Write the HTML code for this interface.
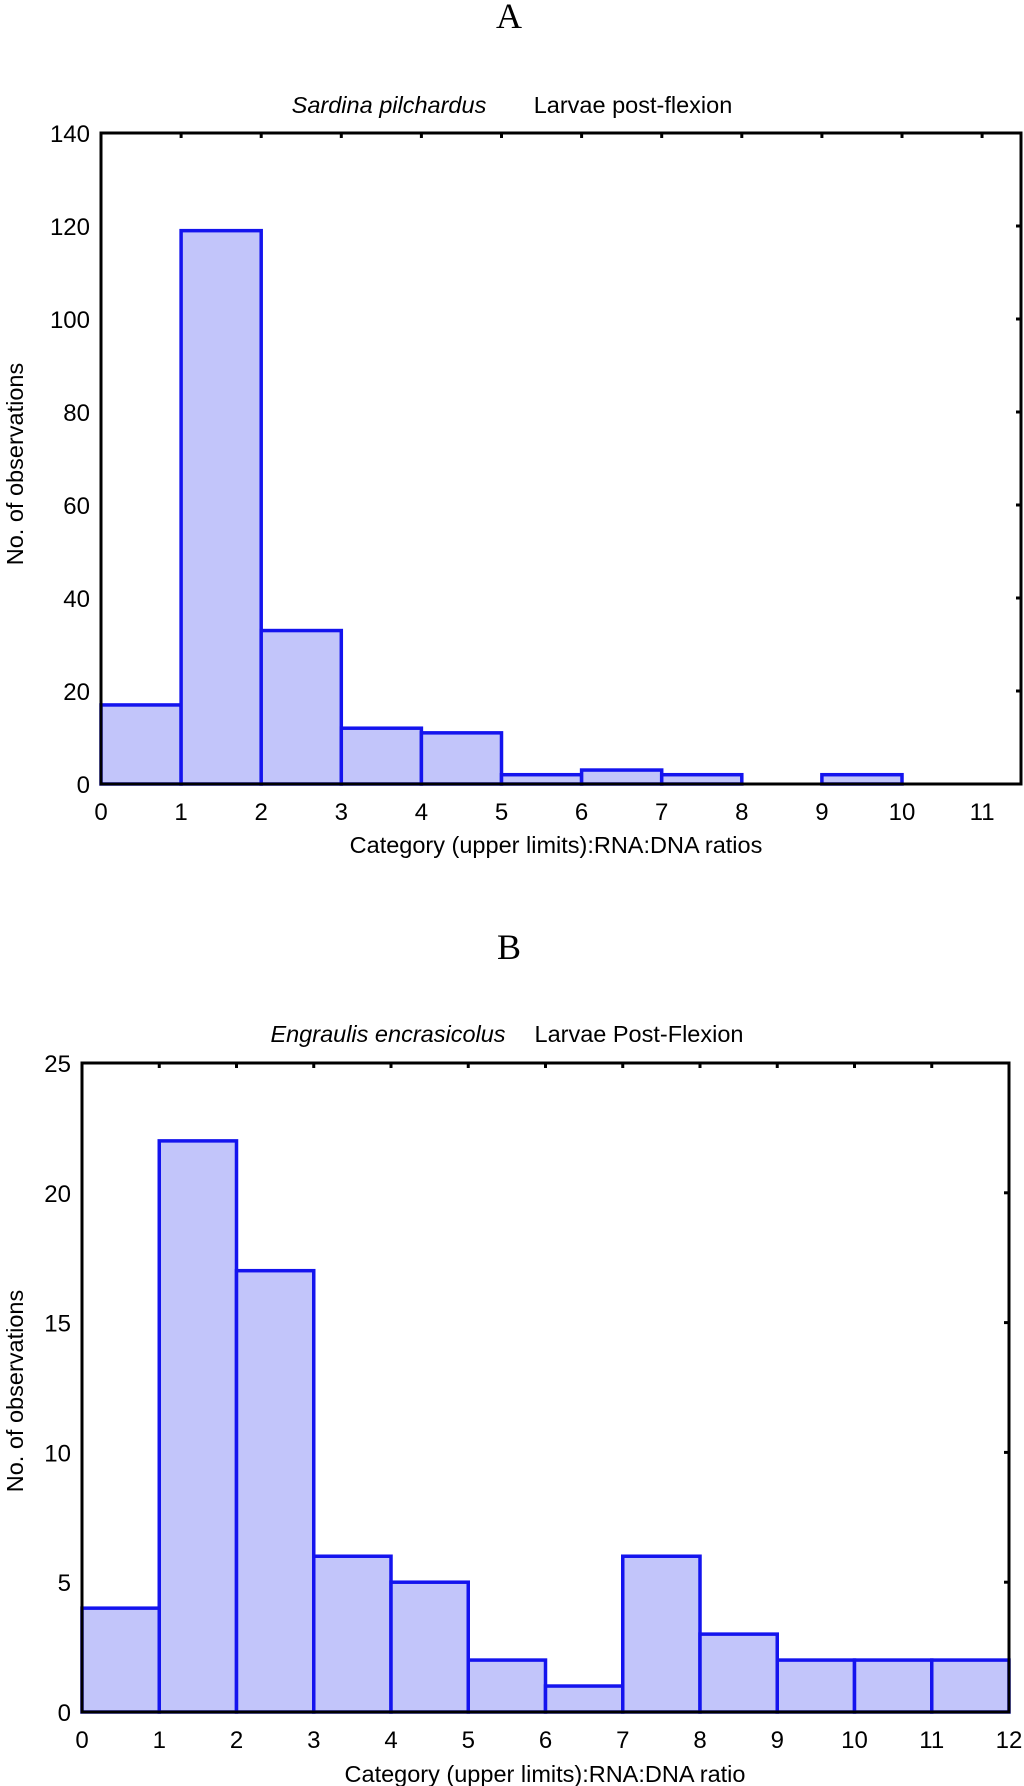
<!DOCTYPE html>
<html><head><meta charset="utf-8"><style>
html,body{margin:0;padding:0;background:#fff;}
svg{display:block;font-family:"Liberation Sans",sans-serif;}
</style></head><body>
<svg id="fig" width="1024" height="1786" viewBox="0 0 1024 1786">
<text x="509" y="28" font-family="Liberation Serif,serif" font-size="36" text-anchor="middle">A</text>
<text x="389" y="113" font-size="23.5" font-style="italic" text-anchor="middle">Sardina pilchardus</text>
<text x="633" y="113" font-size="23.5" text-anchor="middle">Larvae post-flexion</text>
<g id="chartA"></g>
<text x="509" y="959" font-family="Liberation Serif,serif" font-size="36" text-anchor="middle">B</text>
<text x="388" y="1042" font-size="23.5" font-style="italic" text-anchor="middle">Engraulis encrasicolus</text>
<text x="639" y="1042" font-size="23.5" text-anchor="middle">Larvae Post-Flexion</text>
<g id="chartB"></g>
</svg>
<script>
const countsA = [17,119,33,12,11,2,3,2,0,2,0];
const xTicksA = [0,1,2,3,4,5,6,7,8,9,10,11];
const yTicksA = [0,20,40,60,80,100,120,140];
const countsB = [4,22,17,6,5,2,1,6,3,2,2,2];
const xTicksB = [0,1,2,3,4,5,6,7,8,9,10,11,12];
const yTicksB = [0,5,10,15,20,25];
const NS="http://www.w3.org/2000/svg";
function mk(parent,tag,attrs){const e=document.createElementNS(NS,tag);for(const k in attrs)e.setAttribute(k,attrs[k]);parent.appendChild(e);return e;}
function draw(g,cfg){
  const sx=v=>cfg.l+(v-cfg.xmin)/(cfg.xmax-cfg.xmin)*(cfg.r-cfg.l);
  const sy=v=>cfg.b-v/cfg.ymax*(cfg.b-cfg.t);
  cfg.counts.forEach((c,i)=>{
    if(c<=0)return;
    const r=mk(g,'rect',{x:sx(i),y:sy(c),width:sx(i+1)-sx(i),height:sy(0)-sy(c),fill:'#c2c5fa',stroke:'#1414ee','stroke-width':3.5});
    
    
  });
  const f=mk(g,'rect',{x:cfg.l,y:cfg.t,width:cfg.r-cfg.l,height:cfg.b-cfg.t,fill:'none',stroke:'#000','stroke-width':3});
  
  
  cfg.xt.forEach(v=>{
    const x=sx(v);
    mk(g,'line',{x1:x,x2:x,y1:cfg.t,y2:cfg.t+5,stroke:'#000','stroke-width':3});
    const t=mk(g,'text',{x:x,y:cfg.b+36,'font-size':24,'text-anchor':'middle'});
    t.textContent=v;
    
    
  });
  cfg.yt.forEach(v=>{
    const y=sy(v);
    mk(g,'line',{x1:cfg.r,x2:cfg.r-5,y1:y,y2:y,stroke:'#000','stroke-width':3});
    const t=mk(g,'text',{x:cfg.l-11,y:y+9,'font-size':24,'text-anchor':'end'});
    t.textContent=v;
    
    
  });
  const xl=mk(g,'text',{x:cfg.xlx,y:cfg.xly,'font-size':23.5,'text-anchor':'middle'});
  xl.textContent=cfg.xlabel;
  
  
  const yl=mk(g,'text',{x:0,y:0,'font-size':23.5,'text-anchor':'middle',transform:`translate(23,${cfg.yly}) rotate(-90)`});
  yl.textContent='No. of observations';
  
  
}
draw(document.getElementById('chartA'),{l:101,r:1021,t:133,b:784,xmin:0,xmax:(1021-101)/80.1,ymax:140,counts:countsA,xt:xTicksA,yt:yTicksA,xlabel:'Category (upper limits):RNA:DNA ratios',xlx:556,xly:853,yly:464});
draw(document.getElementById('chartB'),{l:82,r:1009,t:1063,b:1712,xmin:0,xmax:12,ymax:25,counts:countsB,xt:xTicksB,yt:yTicksB,xlabel:'Category (upper limits):RNA:DNA ratio',xlx:545,xly:1782,yly:1391});
</script>
</body></html>
